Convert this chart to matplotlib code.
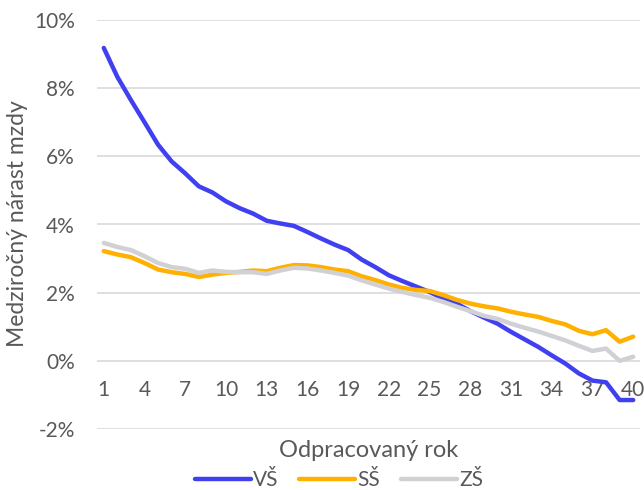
import matplotlib.pyplot as plt
from matplotlib.ticker import FuncFormatter

years = list(range(1, 41))

vs = [9.18, 8.33, 7.65, 7.00, 6.34, 5.85, 5.50, 5.12, 4.94, 4.68,
      4.48, 4.32, 4.11, 4.03, 3.96, 3.78, 3.59, 3.41, 3.25, 2.97,
      2.75, 2.51, 2.34, 2.18, 2.02, 1.83, 1.68, 1.46, 1.27, 1.09,
      0.85, 0.63, 0.41, 0.16, -0.08, -0.37, -0.58, -0.63, -1.15, -1.15]

ss = [3.22, 3.12, 3.04, 2.87, 2.68, 2.60, 2.55, 2.46, 2.53, 2.58,
      2.61, 2.65, 2.63, 2.73, 2.81, 2.80, 2.75, 2.68, 2.63, 2.48,
      2.37, 2.24, 2.14, 2.08, 2.05, 1.93, 1.79, 1.68, 1.60, 1.54,
      1.44, 1.36, 1.29, 1.17, 1.07, 0.88, 0.78, 0.90, 0.56, 0.71]

zs = [3.46, 3.34, 3.25, 3.07, 2.87, 2.75, 2.70, 2.58, 2.65, 2.61,
      2.60, 2.60, 2.55, 2.65, 2.73, 2.71, 2.65, 2.58, 2.50, 2.36,
      2.24, 2.12, 2.02, 1.93, 1.85, 1.73, 1.59, 1.46, 1.32, 1.23,
      1.09, 0.97, 0.86, 0.73, 0.60, 0.44, 0.29, 0.36, 0.00, 0.12]

x_ticks = list(range(1, 41, 3))

text = "#595959"
grid = "#D9D9D9"

plt.rcParams["font.family"] = ["Lato", "DejaVu Sans"]

fig = plt.figure(figsize=(6.44, 4.90), dpi=100)
ax = fig.add_axes([97 / 644, 61 / 490, 543 / 644, 409 / 490])

ax.plot(years, vs, color="#4040F0", linewidth=3.2, label="VŠ", solid_capstyle="round")
ax.plot(years, ss, color="#FFB000", linewidth=3.2, label="SŠ", solid_capstyle="round")
ax.plot(years, zs, color="#D0D0D5", linewidth=3.2, label="ZŠ", solid_capstyle="round")

ax.set_xlim(0.5, 40.5)
ax.set_ylim(-2, 10)
ax.set_yticks(range(-2, 11, 2))
ax.yaxis.set_major_formatter(FuncFormatter(lambda v, p: f"{v:.0f}%"))
ax.set_xticks(x_ticks)

ax.spines["bottom"].set_position(("data", 0))
for s in ["top", "right", "left", "bottom"]:
    ax.spines[s].set_visible(False)

ax.grid(True, axis="y", color=grid, linewidth=1.2)
ax.set_axisbelow(True)
ax.tick_params(axis="both", length=0, colors=text, labelsize=15)
ax.tick_params(axis="y", pad=16)
ax.tick_params(axis="x", pad=14)

# axis titles placed in figure pixels to match the original
fig.text(18 / 644, 1 - 224 / 490, "Medziročný nárast mzdy", ha="center", va="center",
         rotation=90, color=text, fontsize=16.5)
fig.text(369 / 644, 1 - 450 / 490, "Odpracovaný rok", ha="center", va="center",
         color=text, fontsize=17)

leg = fig.legend(loc="center", bbox_to_anchor=(339 / 644, 1 - 480 / 490), ncol=3,
                 frameon=False, fontsize=15, handlelength=2.7,
                 handletextpad=0.1, columnspacing=1.0)
for t in leg.get_texts():
    t.set_color(text)

fig.savefig("out.png", dpi=100)
